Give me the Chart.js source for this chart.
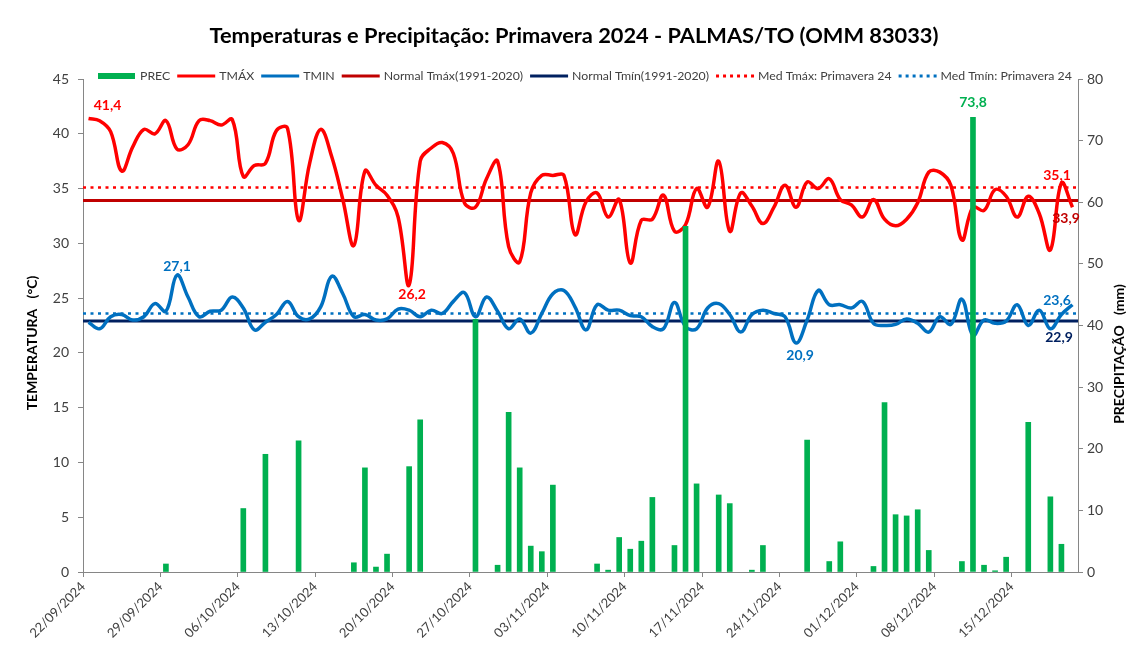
<!DOCTYPE html>
<html>
<head>
<meta charset="utf-8">
<script src="https://cdn.jsdelivr.net/npm/chart.js@4.4.1/dist/chart.umd.min.js"></script>
<style>
  html, body { margin: 0; padding: 0; background: #fff; }
</style>
</head>
<body>
<canvas id="myChart" width="1128" height="648"></canvas>
<script>
// Daily data, Primavera 2024 - PALMAS/TO, 22/09/2024 .. 20/12/2024 (90 days)
const tickLabels = ['22/09/2024', '29/09/2024', '06/10/2024', '13/10/2024', '20/10/2024', '27/10/2024', '03/11/2024',
  '10/11/2024', '17/11/2024', '24/11/2024', '01/12/2024', '08/12/2024', '15/12/2024'];

const tmax = [
  41.4, 41.2, 40.2, 36.6, 38.8, 40.4, 40.0, 41.2, 38.6, 39.0,
  41.2, 41.2, 40.8, 41.3, 36.1, 37.1, 37.3, 40.3, 40.5, 32.1,
  37.3, 40.4, 37.9, 34.0, 29.8, 36.6, 35.3, 34.4, 32.4, 26.2,
  37.5, 38.7, 39.2, 38.2, 33.7, 33.3, 35.9, 37.5, 29.7, 28.3,
  34.6, 36.2, 36.2, 36.2, 30.8, 33.8, 34.6, 32.4, 34.0, 28.2,
  32.1, 32.2, 34.4, 31.1, 31.7, 35.0, 33.3, 37.5, 31.1, 34.6,
  33.4, 31.8, 33.3, 35.3, 33.3, 35.6, 35.0, 35.9, 34.0, 33.5,
  32.4, 34.0, 32.2, 31.6, 32.2, 33.7, 36.5, 36.5, 35.3, 30.3,
  33.3, 33.0, 34.9, 34.3, 32.4, 34.3, 32.7, 29.4, 35.5, 33.3
];

const tmin = [
  22.8, 22.2, 23.3, 23.5, 23.0, 23.3, 24.5, 23.8, 27.1, 25.1,
  23.3, 23.8, 23.9, 25.1, 24.1, 22.1, 22.8, 23.5, 24.7, 23.3,
  23.1, 24.2, 27.0, 25.4, 23.3, 23.5, 23.0, 23.1, 24.0, 23.9,
  23.3, 23.9, 23.6, 24.7, 25.5, 23.3, 25.1, 23.8, 22.2, 23.1,
  21.8, 23.6, 25.4, 25.7, 24.2, 22.1, 24.4, 23.9, 23.9, 23.4,
  23.3, 22.4, 22.2, 24.6, 22.4, 22.2, 24.1, 24.5, 23.5, 21.9,
  23.5, 23.9, 23.6, 23.3, 20.9, 23.0, 25.7, 24.4, 24.4, 24.1,
  24.7, 22.7, 22.5, 22.6, 23.1, 22.7, 21.9, 23.3, 22.6, 24.9,
  21.6, 23.0, 22.7, 22.9, 24.4, 22.5, 23.9, 22.2, 23.5, 24.4
];

const prec = [
  0, 0, 0, 0, 0, 0, 0, 1.3, 0, 0,
  0, 0, 0, 0, 10.3, 0, 19.1, 0, 0, 21.3,
  0, 0, 0, 0, 1.5, 16.9, 0.8, 2.9, 0, 17.1,
  24.7, 0, 0, 0, 0, 41.0, 0, 1.1, 25.9, 16.9,
  4.2, 3.3, 14.1, 0, 0, 0, 1.3, 0.3, 5.6, 3.7,
  5.0, 12.1, 0, 4.3, 56.1, 14.3, 0, 12.5, 11.1, 0,
  0.3, 4.3, 0, 0, 0, 21.4, 0, 1.7, 4.9, 0,
  0, 0.9, 27.5, 9.3, 9.1, 10.1, 3.5, 0, 0, 1.7,
  73.8, 1.1, 0.2, 2.4, 0, 24.3, 0, 12.2, 4.5, 0
];

// Normal 1991-2020 and season average: [Tmax, Tmin]
const normal = [33.9, 22.9];
const seasonAvg = [35.1, 23.6];

const FONT = 'Lato, "Liberation Sans", sans-serif';
const RED = '#FF0000', BLUE = '#0070C0', DARKRED = '#C00000', NAVY = '#002060', GREEN = '#00B050';
const AXIS = '#868686', TEXT = '#404040';

const days = prec.length;
const toXY = arr => arr.map((v, i) => ({ x: i + 0.5, y: v }));
const flat = v => [{ x: 0, y: v }, { x: days, y: v }];
const fmt = v => v.toFixed(1).replace('.', ',');

const legendItems = [
  { text: 'PREC', kind: 'box', color: GREEN },
  { text: 'TMÁX', kind: 'line', color: RED },
  { text: 'TMIN', kind: 'line', color: BLUE },
  { text: 'Normal Tmáx(1991-2020)', kind: 'line', color: DARKRED },
  { text: 'Normal Tmín(1991-2020)', kind: 'line', color: NAVY },
  { text: 'Med Tmáx: Primavera 24', kind: 'dot', color: RED },
  { text: 'Med Tmín: Primavera 24', kind: 'dot', color: BLUE }
];

// Title, legend, axis titles and value labels drawn on top
const overlay = {
  id: 'overlay',
  afterDraw(chart) {
    const ctx = chart.ctx, area = chart.chartArea;
    const sx = chart.scales.x, sy = chart.scales.y, sy1 = chart.scales.y1;
    ctx.save();

    // title
    ctx.fillStyle = '#000';
    ctx.font = 'bold 21.8px ' + FONT;
    ctx.textAlign = 'center';
    ctx.textBaseline = 'middle';
    ctx.fillText('Temperaturas e Precipitação: Primavera 2024 - PALMAS/TO (OMM 83033)', 574, 36);

    // legend
    ctx.font = '12.3px ' + FONT;
    ctx.textAlign = 'left';
    let lx = 98;
    const ly = 76;
    legendItems.forEach(it => {
      if (it.kind === 'box') {
        ctx.fillStyle = it.color;
        ctx.fillRect(lx, ly - 3, 37, 6);
      } else {
        ctx.strokeStyle = it.color;
        ctx.lineWidth = 3;
        ctx.setLineDash(it.kind === 'dot' ? [3, 4] : []);
        ctx.beginPath();
        ctx.moveTo(lx, ly);
        ctx.lineTo(lx + 38, ly);
        ctx.stroke();
        ctx.setLineDash([]);
      }
      ctx.fillStyle = TEXT;
      ctx.fillText(it.text, lx + 42, ly);
      lx += 42 + ctx.measureText(it.text).width + 7;
    });

    // axis titles
    ctx.fillStyle = '#000';
    ctx.font = 'bold 14px ' + FONT;
    ctx.textAlign = 'center';
    ctx.save();
    ctx.translate(32, 343);
    ctx.rotate(-Math.PI / 2);
    ctx.fillText('TEMPERATURA   (°C)', 0, 0);
    ctx.restore();
    ctx.save();
    ctx.translate(1119, 354);
    ctx.rotate(-Math.PI / 2);
    ctx.fillText('PRECIPITAÇÃO   (mm)', 0, 0);
    ctx.restore();

    // value labels
    ctx.font = 'bold 14px ' + FONT;
    const put = (text, px, py, color) => {
      ctx.fillStyle = color;
      ctx.fillText(text, px, py);
    };
    const px = i => sx.getPixelForValue(i + 0.5);

    const iMax = tmax.indexOf(Math.max(...tmax));
    const iMaxLow = tmax.indexOf(Math.min(...tmax));
    const iMinHigh = tmin.indexOf(Math.max(...tmin));
    const iMin = tmin.indexOf(Math.min(...tmin));
    const iPrec = prec.indexOf(Math.max(...prec));

    put(fmt(tmax[iMax]), px(iMax) + 19, sy.getPixelForValue(tmax[iMax]) - 13, RED);
    put(fmt(tmax[iMaxLow]), px(iMaxLow) + 3, sy.getPixelForValue(tmax[iMaxLow]) + 10, RED);
    put(fmt(tmin[iMinHigh]), px(iMinHigh), sy.getPixelForValue(tmin[iMinHigh]) - 9, BLUE);
    put(fmt(tmin[iMin]), px(iMin) + 4, sy.getPixelForValue(tmin[iMin]) + 12, BLUE);
    put(fmt(prec[iPrec]), px(iPrec), sy1.getPixelForValue(prec[iPrec]) - 15, GREEN);

    put(fmt(seasonAvg[0]), area.right - 21, sy.getPixelForValue(seasonAvg[0]) - 12, RED);
    put(fmt(normal[0]), area.right - 12, sy.getPixelForValue(normal[0]) + 18, DARKRED);
    put(fmt(seasonAvg[1]), area.right - 21, sy.getPixelForValue(seasonAvg[1]) - 13, BLUE);
    put(fmt(normal[1]), area.right - 19, sy.getPixelForValue(normal[1]) + 16, NAVY);

    ctx.restore();
  }
};

const ctx = document.getElementById('myChart');
const myChart = new Chart(ctx, {
  type: 'bar',
  data: {
    datasets: [
      {
        type: 'bar', label: 'PREC', data: toXY(prec).filter(p => p.y > 0), yAxisID: 'y1',
        backgroundColor: GREEN, barThickness: 5, order: 0
      },
      {
        type: 'line', label: 'TMÁX', data: toXY(tmax), yAxisID: 'y',
        borderColor: RED, borderWidth: 3.5, tension: 0.4, pointRadius: 0, order: 2
      },
      {
        type: 'line', label: 'TMIN', data: toXY(tmin), yAxisID: 'y',
        borderColor: BLUE, borderWidth: 3.5, tension: 0.4, pointRadius: 0, order: 2
      },
      {
        type: 'line', label: 'Normal Tmáx(1991-2020)', data: flat(normal[0]), yAxisID: 'y',
        borderColor: DARKRED, borderWidth: 3, pointRadius: 0, order: 3
      },
      {
        type: 'line', label: 'Normal Tmín(1991-2020)', data: flat(normal[1]), yAxisID: 'y',
        borderColor: NAVY, borderWidth: 3, pointRadius: 0, order: 3
      },
      {
        type: 'line', label: 'Med Tmáx: Primavera 24', data: flat(seasonAvg[0]), yAxisID: 'y',
        borderColor: RED, borderWidth: 2.5, borderDash: [3, 4.5], pointRadius: 0, order: 3
      },
      {
        type: 'line', label: 'Med Tmín: Primavera 24', data: flat(seasonAvg[1]), yAxisID: 'y',
        borderColor: BLUE, borderWidth: 2.5, borderDash: [3, 4.5], pointRadius: 0, order: 3
      }
    ]
  },
  options: {
    responsive: false,
    animation: false,
    devicePixelRatio: 1,
    layout: { padding: { top: 79, left: 0, right: 0, bottom: 0 } },
    plugins: {
      legend: { display: false },
      title: { display: false },
      tooltip: { enabled: false }
    },
    scales: {
      x: {
        type: 'linear',
        min: 0,
        max: days,
        offset: false,
        afterFit: s => { s.height = 76; },
        grid: { offset: false, drawOnChartArea: false, tickLength: 5, color: AXIS },
        border: { color: AXIS },
        ticks: {
          stepSize: 7,
          includeBounds: false,
          autoSkip: false,
          minRotation: 45,
          maxRotation: 45,
          padding: 2,
          color: TEXT,
          font: { family: FONT, size: 13 },
          callback: v => (v % 7 === 0 ? tickLabels[v / 7] : null)
        }
      },
      y: {
        position: 'left',
        min: 0,
        max: 45,
        afterFit: s => { s.width = 83; },
        grid: { drawOnChartArea: false, tickLength: 5, color: AXIS },
        border: { color: AXIS },
        ticks: { stepSize: 5, padding: 9, color: TEXT, font: { family: FONT, size: 14 } }
      },
      y1: {
        position: 'right',
        min: 0,
        max: 80,
        afterFit: s => { s.width = 50; },
        grid: { drawOnChartArea: false, tickLength: 5, color: AXIS },
        border: { color: AXIS },
        ticks: { stepSize: 10, padding: 4, color: TEXT, font: { family: FONT, size: 14 } }
      }
    }
  },
  plugins: [overlay]
});
</script>
</body>
</html>
